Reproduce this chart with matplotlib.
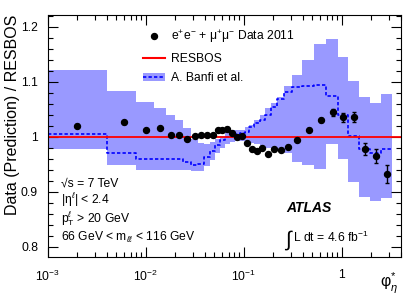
import numpy as np
import matplotlib
matplotlib.use("Agg")
import matplotlib.pyplot as plt
from matplotlib.lines import Line2D
from matplotlib.patches import Patch
from matplotlib.legend_handler import HandlerLine2D
from matplotlib.ticker import FixedLocator, FixedFormatter, LogLocator, MultipleLocator

# phi*_eta bin edges (first bin starts at 0)
edges = [0.0, 0.004, 0.008, 0.012, 0.016, 0.020, 0.024, 0.029, 0.034, 0.039,
         0.045, 0.051, 0.057, 0.064, 0.072, 0.081, 0.091, 0.102, 0.114, 0.128,
         0.145, 0.165, 0.189, 0.219, 0.258, 0.312, 0.391, 0.524, 0.695, 0.918,
         1.153, 1.496, 1.947, 2.522, 3.277]

# data / RESBOS
data = [1.0205, 1.026, 1.0127, 1.0157, 1.0036, 1.0036, 0.9964, 1.002, 1.0036,
        1.0024, 1.0024, 1.0127, 1.0130, 1.015, 1.0078, 0.999, 1.001, 0.988,
        0.977, 0.975, 0.979, 0.969, 0.977, 0.9757, 0.982, 0.9945, 1.0127,
        1.030, 1.0447, 1.0357, 1.0357, 0.978, 0.965, 0.9327]
data_err = [0.002, 0.002, 0.002, 0.002, 0.002, 0.002, 0.002, 0.002, 0.002,
            0.002, 0.002, 0.002, 0.002, 0.002, 0.002, 0.002, 0.002, 0.002,
            0.002, 0.002, 0.002, 0.002, 0.002, 0.002, 0.003, 0.003, 0.003,
            0.004, 0.006, 0.008, 0.009, 0.011, 0.0125, 0.016]

# A. Banfi et al. / RESBOS: central value and uncertainty band
banfi = [1.0055, 0.970, 0.959, 0.959, 0.959, 0.959, 0.955, 0.949, 0.950,
         0.963, 0.975, 0.985, 0.994, 0.999, 1.002, 1.005, 1.0065, 1.0096,
         1.0175, 1.025, 1.031, 1.040, 1.054, 1.068, 1.082, 1.090, 1.093,
         1.0945, 1.075, 1.039, 1.001, 0.978, 0.970, 0.978]
banfi_hi = [1.122, 1.083, 1.063, 1.052, 1.040, 1.030, 1.016, 0.996, 0.988,
            0.987, 0.990, 0.996, 1.002, 1.008, 1.012, 1.013, 1.013, 1.0175,
            1.022, 1.030, 1.040, 1.052, 1.062, 1.073, 1.093, 1.113, 1.139,
            1.169, 1.178, 1.145, 1.102, 1.073, 1.062, 1.078]
banfi_lo = [0.978, 0.948, 0.939, 0.939, 0.939, 0.939, 0.939, 0.937, 0.937,
            0.947, 0.958, 0.970, 0.980, 0.986, 0.990, 0.993, 0.993, 0.991,
            0.988, 0.986, 0.983, 0.980, 0.977, 0.975, 0.971, 0.955, 0.948,
            0.942, 0.987, 0.960, 0.917, 0.891, 0.883, 0.889]

xticks = [1e-3, 1e-2, 1e-1, 1]
xticklabels = ["10$^{-3}$", "10$^{-2}$", "10$^{-1}$", "1"]
yticks = [0.8, 0.9, 1.0, 1.1, 1.2]
yticklabels = ["0.8", "0.9", "1", "1.1", "1.2"]


class RightMarker(HandlerLine2D):
    # put the legend marker near the right end of the key, as ROOT does
    def get_xdata(self, legend, xdescent, ydescent, width, height, fontsize):
        return np.array([-xdescent, width]), np.array([width - 0.25 * fontsize])


def main():
    plt.rcParams['font.family'] = ['Liberation Sans', 'DejaVu Sans']
    plt.rcParams['mathtext.fontset'] = 'custom'
    plt.rcParams['mathtext.rm'] = 'Liberation Sans'
    plt.rcParams['mathtext.it'] = 'Liberation Sans:italic'
    plt.rcParams['mathtext.bf'] = 'Liberation Sans:bold'

    xmin, xmax = 1e-3, 4.0
    e = np.array(edges)
    e_plot = np.where(e > 0, e, xmin)
    centers = 0.5 * (e[:-1] + e[1:])

    fig = plt.figure(figsize=(4.15, 2.97), dpi=100)
    ax = fig.add_axes([0.115, 0.1357, 0.851, 0.8148])

    band_col = '#9999ff'
    ax.fill_between(e_plot, banfi_lo + [banfi_lo[-1]], banfi_hi + [banfi_hi[-1]],
                    step='post', color=band_col, lw=0)
    ax.step(e_plot, banfi + [banfi[-1]], where='post', color='#0000ff',
            lw=1.2, ls=(0, (2, 1.3)))
    ax.axhline(1.0, color='#ff0000', lw=1.3)
    ax.errorbar(centers, data, yerr=data_err, fmt='o', color='k', ms=4.3,
                elinewidth=1.0, capsize=1.3, zorder=5)

    ax.set_xscale('log')
    ax.set_xlim(xmin, xmax)
    ax.set_ylim(0.782, 1.222)

    ax.xaxis.set_major_locator(FixedLocator(xticks))
    ax.xaxis.set_major_formatter(FixedFormatter(xticklabels))
    ax.xaxis.set_minor_locator(LogLocator(base=10, subs=np.arange(2, 10)))
    ax.xaxis.set_minor_formatter(FixedFormatter([]))
    ax.yaxis.set_major_locator(FixedLocator(yticks))
    ax.yaxis.set_major_formatter(FixedFormatter(yticklabels))
    ax.yaxis.set_minor_locator(MultipleLocator(0.02))

    ax.tick_params(which='both', direction='in', top=True, right=True,
                   labelsize=8.7, colors='k')
    ax.tick_params(which='major', length=7, width=0.8)
    ax.tick_params(which='minor', length=3.5, width=0.8)
    ax.tick_params(axis='x', which='major', pad=9)
    ax.tick_params(axis='y', which='major', pad=7)
    for s in ax.spines.values():
        s.set_linewidth(0.8)

    ax.set_ylabel('Data (Prediction) / RESBOS', fontsize=11.5, ha='right')
    ax.yaxis.set_label_coords(-0.078, 1.0)
    ax.set_xlabel('φ$^{*}_{η}$', fontsize=11.5, ha='right', va='top')
    ax.xaxis.set_label_coords(0.993, -0.058)

    data_key = Line2D([], [], marker='o', ls='none', color='k', ms=4.3)
    handles = [data_key,
               Line2D([], [], color='#ff0000', lw=1.5),
               (Patch(fc=band_col, lw=0),
                Line2D([], [], color='#0000ff', lw=1.2, ls=(0, (2, 1.3))))]
    labels = ['e$^{+}$e$^{-}$ + μ$^{+}$μ$^{-}$ Data 2011', 'RESBOS',
              'A. Banfi et al.']
    ax.legend(handles, labels, loc='upper left', bbox_to_anchor=(0.27, 0.943),
              frameon=False, fontsize=8.7, handlelength=1.8,
              handletextpad=0.5, labelspacing=0.62, borderpad=0,
              borderaxespad=0, handler_map={data_key: RightMarker()})

    tx = 0.0376
    ax.text(tx, 0.289, '√s = 7 TeV', transform=ax.transAxes, fontsize=8.7)
    ax.text(tx, 0.217, '|η$^{\\ell}$| < 2.4', transform=ax.transAxes,
            fontsize=8.7)
    ax.text(tx, 0.142, 'p$_{\\mathrm{T}}^{\\ell}$ > 20 GeV',
            transform=ax.transAxes, fontsize=8.7)
    ax.text(tx, 0.065, '66 GeV < m$_{\\ell\\ell}$ < 116 GeV',
            transform=ax.transAxes, fontsize=8.7)

    ax.text(0.676, 0.183, 'ATLAS', transform=ax.transAxes, fontsize=10,
            fontweight='bold', fontstyle='italic')
    ax.text(0.672, 0.045, '∫', transform=ax.transAxes, fontsize=15)
    ax.text(0.695, 0.062, 'L dt = 4.6 fb$^{-1}$', transform=ax.transAxes,
            fontsize=8.7)

    fig.savefig('out.png', dpi=100)


if __name__ == "__main__":
    main()
